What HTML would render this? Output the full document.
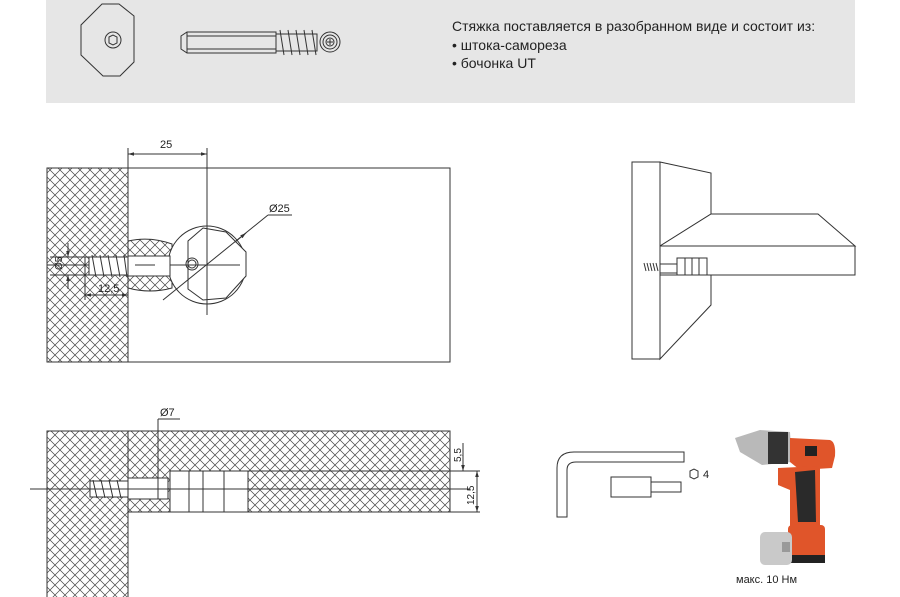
<!DOCTYPE html>
<html><head><meta charset="utf-8"><style>
html,body{margin:0;padding:0;background:#fff;}
svg{display:block;}
text{font-family:"Liberation Sans",sans-serif;fill:#222;}
</style></head><body>
<svg width="900" height="597" viewBox="0 0 900 597" xmlns="http://www.w3.org/2000/svg">
<defs>
<pattern id="h" width="10" height="10" patternUnits="userSpaceOnUse">
<path d="M0,0 L10,10 M10,0 L0,10" stroke="#444" stroke-width="0.7" fill="none"/>
</pattern>
<marker id="a" viewBox="0 0 10 10" refX="10" refY="5" markerWidth="6" markerHeight="6" orient="auto-start-reverse"><path d="M0,2 L10,5 L0,8 Z" fill="#333"/></marker>
</defs>
<!-- top panel -->
<rect x="46" y="0" width="809" height="103" fill="#e6e6e6"/>
<g fill="none" stroke="#333" stroke-width="1">
<polygon points="102,4 119,4 134,16 134,62 120,76 103,76 81,55 81,25"/>
<circle cx="113" cy="40" r="8"/>
<polygon points="109,37 113,35 117,37 117,43 113,45 109,43"/>
<path d="M187,32 L276,32 L276,53 L187,53 L181,49 L181,36 Z"/>
<line x1="187" y1="32" x2="187" y2="53"/><line x1="187" y1="36" x2="276" y2="36"/><line x1="187" y1="49" x2="276" y2="49"/>
<rect x="276" y="34" width="41" height="17"/>
<path d="M280,30 L284,55 M288,30 L292,55 M296,30 L300,55 M304,30 L308,55 M312,30 L316,55"/>
<circle cx="330" cy="42" r="10"/><circle cx="330" cy="42" r="7"/><circle cx="330" cy="42" r="4"/>
<path d="M327,42 h6 M330,39 v6"/>
</g>
<text x="452" y="31" font-size="14">Стяжка поставляется в разобранном виде и состоит из:</text>
<text x="452" y="50" font-size="14">• штока-самореза</text>
<text x="452" y="68" font-size="14">• бочонка UT</text>

<!-- drawing 1 -->
<rect x="47" y="168" width="81" height="194" fill="url(#h)" stroke="#333"/>
<rect x="128" y="168" width="322" height="194" fill="#fff" stroke="#333"/>
<path d="M128,241 Q150,236 172,244 L172,288 Q150,294 128,288 Z" fill="url(#h)" stroke="#333"/>
<g fill="none" stroke="#333" stroke-width="1">
<line x1="128" y1="148" x2="128" y2="168"/>
<line x1="128" y1="154" x2="207" y2="154" marker-start="url(#a)" marker-end="url(#a)"/>
<circle cx="207" cy="265" r="39" fill="#fff"/>
<polygon points="203,228 226,232 246,252 246,276 226,298 203,300 188,289 188,241" fill="#fff"/>
<line x1="207" y1="148" x2="207" y2="315"/>
<circle cx="192" cy="264" r="6"/><circle cx="192" cy="264" r="4"/>
<line x1="47" y1="265" x2="240" y2="265"/>
<line x1="163" y1="300" x2="268" y2="215"/>
<line x1="235" y1="242" x2="246" y2="233" marker-end="url(#a)"/>
<line x1="268" y1="215" x2="292" y2="215"/>
<rect x="128" y="256" width="42" height="20" fill="#fff"/>
<line x1="135" y1="265" x2="155" y2="265"/>
<rect x="89" y="257" width="39" height="18" fill="#fff"/>
<path d="M92,255 L96,277 M100,255 L104,277 M108,255 L112,277 M116,255 L120,277 M124,255 L127,277"/>
<line x1="85" y1="257" x2="85" y2="300"/><line x1="85" y1="295" x2="128" y2="295" marker-start="url(#a)" marker-end="url(#a)"/>
<line x1="68" y1="243" x2="68" y2="257" marker-end="url(#a)"/><line x1="68" y1="289" x2="68" y2="275" marker-end="url(#a)"/>
<line x1="50" y1="257" x2="89" y2="257"/><line x1="50" y1="275" x2="89" y2="275"/>
</g>
<text x="160" y="148" font-size="11">25</text>
<text x="269" y="212" font-size="11">Ø25</text>
<text x="98" y="292" font-size="11">12,5</text>
<text x="62" y="270" font-size="10" transform="rotate(-90 62 270)">Ø5</text>

<!-- drawing 2 -->
<rect x="47" y="431" width="81" height="170" fill="url(#h)" stroke="#333"/>
<rect x="128" y="431" width="322" height="81" fill="url(#h)" stroke="#333"/>
<g fill="#fff" stroke="#333" stroke-width="1">
<rect x="170" y="471" width="78" height="41"/>
<rect x="128" y="478" width="40" height="21"/>
<rect x="90" y="481" width="38" height="16"/>
</g>
<g fill="none" stroke="#333" stroke-width="1">
<path d="M93,480 L97,498 M101,480 L105,498 M109,480 L113,498 M117,480 L121,498"/>
<line x1="189" y1="471" x2="189" y2="512"/><line x1="203" y1="471" x2="203" y2="512"/><line x1="224" y1="471" x2="224" y2="512"/>
<line x1="248" y1="471" x2="480" y2="471"/><line x1="450" y1="512" x2="480" y2="512"/>
<line x1="30" y1="489" x2="470" y2="489"/>
<line x1="158" y1="419" x2="158" y2="499"/><line x1="158" y1="419" x2="180" y2="419"/>
<line x1="463" y1="443" x2="463" y2="471" marker-end="url(#a)"/>
<line x1="477" y1="471" x2="477" y2="512" marker-start="url(#a)" marker-end="url(#a)"/>
</g>
<text x="160" y="416" font-size="11">Ø7</text>
<text x="461" y="462" font-size="10" transform="rotate(-90 461 462)">5,5</text>
<text x="474" y="505" font-size="10" transform="rotate(-90 474 505)">12,5</text>

<!-- 3D view -->
<g fill="#fff" stroke="#333" stroke-width="1">
<path d="M660,162 L711,173 L711,214 L660,246 Z"/>
<path d="M660,246 L711,214 L818,214 L855,246 Z"/>
<rect x="660" y="246" width="195" height="29"/>
<path d="M660,275 L711,275 L711,305 L660,359 Z"/>
<rect x="632" y="162" width="28" height="197"/>
<rect x="660" y="264" width="17" height="9"/>
<rect x="677" y="258" width="30" height="17"/>
<line x1="685" y1="258" x2="685" y2="275"/><line x1="692" y1="258" x2="692" y2="275"/><line x1="699" y1="258" x2="699" y2="275"/>
<path d="M644,263 L646,271 M647,263 L649,271 M650,263 L652,271 M653,263 L655,271 M656,263 L658,271"/>
</g>

<!-- tools -->
<g fill="#fff" stroke="#333" stroke-width="1">
<path d="M684,452 L574,452 Q557,452 557,468 L557,517 L567,517 L567,470 Q567,462 576,462 L684,462 Z"/>
<rect x="611" y="477" width="40" height="20"/>
<rect x="651" y="482" width="30" height="10"/>
<polygon points="690,471 694,469 698,471 698,477 694,479 690,477"/>
</g>
<text x="703" y="478" font-size="11">4</text>
<!-- drill -->
<g>
<polygon points="735,438 760,430 790,432 792,462 762,465 740,452" fill="#b9b9b9"/>
<rect x="768" y="432" width="20" height="32" fill="#333"/>
<path d="M790,438 L830,440 Q836,442 835,456 L832,468 L800,470 L790,462 Z" fill="#e0552a"/>
<rect x="805" y="446" width="12" height="10" fill="#222"/>
<path d="M778,468 L820,466 L820,528 L790,528 L790,490 L778,485 Z" fill="#e0552a"/>
<path d="M795,472 L815,470 L816,522 L798,522 Z" fill="#2a2a2a"/>
<rect x="788" y="525" width="37" height="37" rx="4" fill="#e0552a"/>
<rect x="788" y="555" width="37" height="8" fill="#222"/>
<rect x="760" y="532" width="32" height="33" rx="5" fill="#c9c9c9"/>
<rect x="782" y="542" width="8" height="10" fill="#999"/>
</g>
<text x="736" y="583" font-size="11">макс. 10 Нм</text>
</svg>
</body></html>
